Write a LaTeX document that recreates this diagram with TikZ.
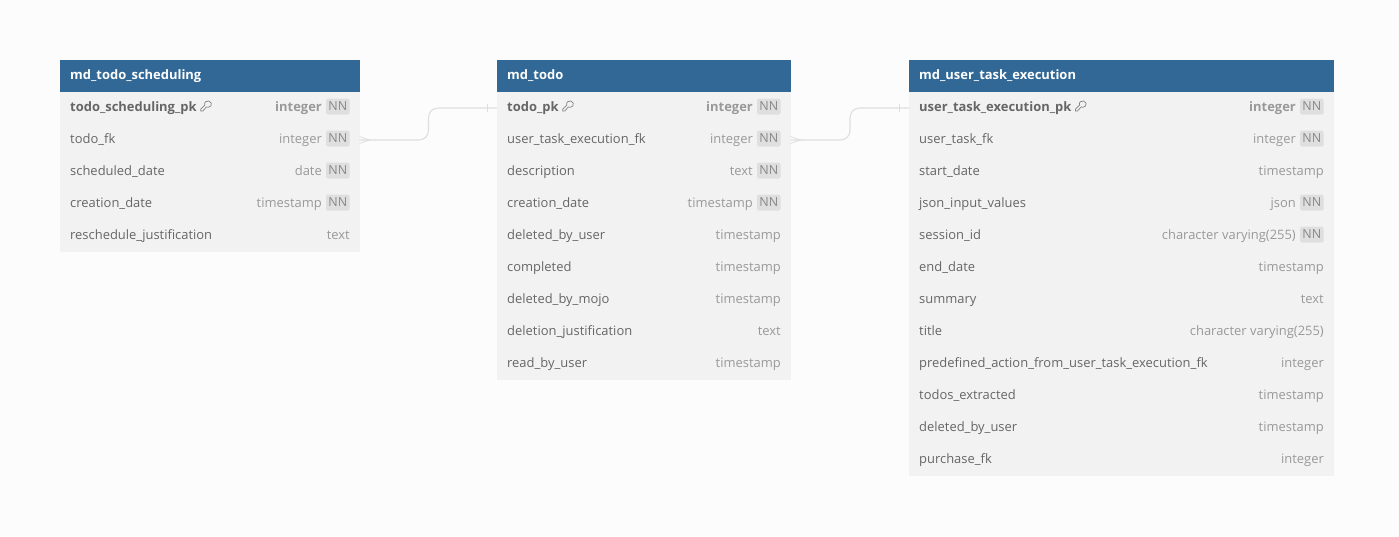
\documentclass[tikz,border=0pt]{standalone}
\usepackage{fontspec}
\setmainfont{Open Sans}
\definecolor{pagebg}{HTML}{FCFCFC}
\definecolor{headblue}{HTML}{316896}
\definecolor{bodygrey}{HTML}{F2F2F2}
\definecolor{namegrey}{HTML}{666666}
\definecolor{typegrey}{HTML}{999999}
\definecolor{nnbox}{HTML}{DFDFDF}
\definecolor{nntext}{HTML}{888888}
\definecolor{linkgrey}{HTML}{DEDEDE}
\tikzset{
  x=1pt,y=-1pt,
  headbox/.style={fill=headblue,inner sep=0pt,outer sep=0pt,anchor=north west,minimum height=32pt},
  rowbox/.style={fill=bodygrey,inner sep=0pt,outer sep=0pt,anchor=north west,minimum height=32pt},
  headtext/.style={inner sep=0pt,anchor=base west,text=white,font=\fontsize{12.95}{15}\selectfont\bfseries},
  nametext/.style={inner sep=0pt,anchor=base west,text=namegrey,font=\fontsize{12.95}{15}\selectfont},
  pktext/.style={nametext,font=\fontsize{12.95}{15}\selectfont\bfseries},
  typetext/.style={inner sep=0pt,anchor=base east,text=typegrey,font=\fontsize{12.95}{15}\selectfont},
  pktype/.style={typetext,font=\fontsize{12.95}{15}\selectfont\bfseries},
  nntag/.style={fill=nnbox,text=nntext,rounded corners=1.5pt,inner sep=0pt,minimum width=23.5pt,minimum height=16pt,anchor=center,font=\fontsize{12.5}{14}\selectfont},
  link/.style={draw=linkgrey,line width=1.1pt},
  linkthin/.style={draw=linkgrey,line width=0.8pt},
  keyicon/.style={draw=typegrey!85!black,line width=0.7pt}
}
\newcommand{\SetTable}[3]{\def\tid{#1}\def\tl{#2}\def\tr{#3}%
  \pgfmathsetmacro{\tw}{#3-#2}\pgfmathsetmacro{\tnx}{#2+10}\pgfmathsetmacro{\tnn}{#3-9.5}\pgfmathsetmacro{\ttn}{#3-37.5}\pgfmathsetmacro{\tnc}{#3-21.75}}
\newcommand{\Head}[1]{%
  \node[headbox,minimum width=\tw pt] (\tid h) at (\tl,60) {};
  \node[headtext] (\tid ht) at (\tnx,79) {#1};}
\newcommand{\RowBg}[1]{%
  \pgfmathsetmacro{\ry}{92+32*(#1-1)}%
  \pgfmathsetmacro{\rb}{111+32*(#1-1)}%
  \pgfmathsetmacro{\rc}{106.5+32*(#1-1)}%
  \node[rowbox,minimum width=\tw pt] (\tid r#1) at (\tl,\ry) {};}
\newcommand{\Row}[3]{\RowBg{#1}%
  \node[nametext] (\tid n#1) at (\tnx,\rb) {#2};
  \node[typetext] (\tid t#1) at (\tnn,\rb) {#3};}
\newcommand{\RowNN}[3]{\RowBg{#1}%
  \node[nametext] (\tid n#1) at (\tnx,\rb) {#2};
  \node[typetext] (\tid t#1) at (\ttn,\rb) {#3};
  \node[nntag] (\tid q#1) at (\tnc,\rc) {NN};}
\newcommand{\PkRow}[3]{\RowBg{#1}%
  \node[pktext] (\tid n#1) at (\tnx,\rb) {#2};
  \node[pktype] (\tid t#1) at (\ttn,\rb) {#3};
  \node[nntag] (\tid q#1) at (\tnc,\rc) {NN};
  \begin{scope}[shift={(\tid n#1.base east)}]
    \draw[keyicon] (4,0) -- (4,-2) -- (8,-6)
      .. controls (7,-9) and (10,-10.5) .. (12,-10)
      .. controls (14.5,-9.5) and (15.5,-6.5) .. (14,-5)
      .. controls (12.5,-3.5) and (10.5,-3.5) .. (9.5,-4)
      -- (6,0) -- cycle;
  \end{scope}}
\begin{document}
\begin{tikzpicture}
\useasboundingbox (0,0) rectangle (1399,536);
\fill[pagebg] (0,0) rectangle (1399,536);

\SetTable{a}{60}{359.5}
\Head{md\_todo\_scheduling}
\PkRow{1}{todo\_scheduling\_pk}{integer}
\RowNN{2}{todo\_fk}{integer}
\RowNN{3}{scheduled\_date}{date}
\RowNN{4}{creation\_date}{timestamp}
\Row{5}{reschedule\_justification}{text}

\SetTable{b}{497}{790.5}
\Head{md\_todo}
\PkRow{1}{todo\_pk}{integer}
\RowNN{2}{user\_task\_execution\_fk}{integer}
\RowNN{3}{description}{text}
\RowNN{4}{creation\_date}{timestamp}
\Row{5}{deleted\_by\_user}{timestamp}
\Row{6}{completed}{timestamp}
\Row{7}{deleted\_by\_mojo}{timestamp}
\Row{8}{deletion\_justification}{text}
\Row{9}{read\_by\_user}{timestamp}

\SetTable{c}{909}{1333.5}
\Head{md\_user\_task\_execution}
\PkRow{1}{user\_task\_execution\_pk}{integer}
\RowNN{2}{user\_task\_fk}{integer}
\Row{3}{start\_date}{timestamp}
\RowNN{4}{json\_input\_values}{json}
\RowNN{5}{session\_id}{character varying(255)}
\Row{6}{end\_date}{timestamp}
\Row{7}{summary}{text}
\Row{8}{title}{character varying(255)}
\Row{9}{predefined\_action\_from\_user\_task\_execution\_fk}{integer}
\Row{10}{todos\_extracted}{timestamp}
\Row{11}{deleted\_by\_user}{timestamp}
\Row{12}{purchase\_fk}{integer}

% connectors
\draw[link] (ar2.east) -- ++(59,0) .. controls +(6,0) and +(0,6) .. ++(10,-10) -- ++(0,-12)
  .. controls +(0,-6) and +(-6,0) .. ++(10,-10) -- (br1.west);
\draw[linkthin] ([yshift=3.5pt]ar2.east) -- ++(10,3.5) -- ++(-10,3.5);
\draw[linkthin] ([xshift=-10pt,yshift=4pt]br1.west) -- ++(0,8);

\draw[link] (br2.east) -- ++(49.5,0) .. controls +(6,0) and +(0,6) .. ++(10,-10) -- ++(0,-12)
  .. controls +(0,-6) and +(-6,0) .. ++(10,-10) -- (cr1.west);
\draw[linkthin] ([yshift=3.5pt]br2.east) -- ++(10,3.5) -- ++(-10,3.5);
\draw[linkthin] ([xshift=-10pt,yshift=4pt]cr1.west) -- ++(0,8);
\end{tikzpicture}
\end{document}
